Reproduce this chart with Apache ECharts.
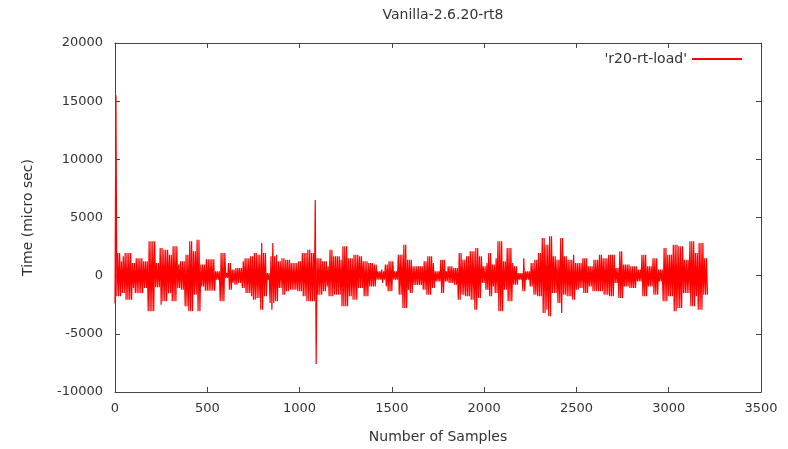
<!DOCTYPE html>
<html>
<head>
<meta charset="utf-8">
<script src="https://cdn.jsdelivr.net/npm/echarts@6/dist/echarts.min.js"></script>
<style>
html,body{margin:0;padding:0;background:#fff;}
#c{width:788px;height:449px;}
</style>
</head>
<body>
<div id="c"></div>
<script>
const chartTitle = "Vanilla-2.6.20-rt8";
const seriesName = "'r20-rt-load'";
const xTicks = [0, 500, 1000, 1500, 2000, 2500, 3000, 3500];
const yTicks = [-10000, -5000, 0, 5000, 10000, 15000, 20000];
const sampleStep = 5; // sample index spacing between readings
const latency = [
-2400,15500,-1770,1950,-1770,1950,-1770,1230,-1490,1660,
-1490,1950,-2060,1950,-2060,1950,-2060,1950,-2060,1090,
-1060,1090,-1490,1500,-1490,1500,-1490,1500,-1490,1500,
-1490,1230,-1060,1230,-1060,1230,-3060,2950,-3060,2950,
-3060,2950,-3060,2950,-1000,1090,-1000,1090,-1000,2370,
-2490,2370,-2200,2230,-2200,2230,-2200,2230,-1500,1800,
-1500,1800,-2200,2520,-2200,2520,-2200,2520,-1060,950,
-1060,1230,-1200,1230,-1200,1230,-2630,1800,-2630,1800,
-3060,2950,-3060,2950,-3060,2090,-1630,2090,-1630,3090,
-3060,3090,-3060,950,-920,950,-920,950,-1300,1400,
-1300,1400,-1300,1400,-1300,1400,-1300,1400,-1300,370,
-340,370,-340,370,-2200,1950,-2200,1950,-2200,1950,
-200,230,-200,1090,-1200,1090,-1200,520,-630,520,
-770,660,-770,660,-630,660,-630,660,-1060,1230,
-1060,1500,-1490,1500,-1490,1500,-1490,1660,-1770,1660,
-2060,1950,-2060,1950,-1920,1800,-1920,1800,-2920,2800,
-2920,1950,-1770,1950,-1770,230,-340,230,-2350,1660,
-2920,2800,-2350,1660,-2200,1800,-2200,1230,-1060,1230,
-1060,1500,-1630,1500,-1630,1370,-1340,1370,-1340,1370,
-1200,1090,-1200,1090,-1200,1090,-1200,1090,-1340,1230,
-1340,1230,-1340,1950,-1770,1950,-1770,1950,-2200,2230,
-2200,2230,-2200,1950,-2200,1950,-2200,6500,-7600,1500,
-1630,1500,-1630,1500,-1630,1230,-1340,1230,-1340,1230,
-920,800,-1770,2230,-1770,2230,-1770,1660,-1630,1660,
-1630,1660,-1630,1660,-1630,1370,-2630,2520,-2630,2520,
-2630,2520,-2630,1500,-1770,1500,-1770,1500,-2060,1800,
-2060,1800,-2060,1800,-1060,1660,-1060,1660,-1060,1230,
-1770,1230,-1770,1230,-1770,1090,-920,1090,-920,1090,
-920,950,-920,950,-340,370,-340,370,-340,520,
-630,370,-340,950,-920,950,-1340,1230,-1340,1230,
-1340,1230,-340,370,-340,370,-340,1800,-1630,1800,
-1630,1800,-2770,2660,-2770,2660,-2770,1370,-1200,1370,
-1490,1370,-1490,800,-800,800,-800,800,-800,800,
-800,800,-800,800,-1200,1230,-1200,1230,-1630,1660,
-1630,1660,-1630,1660,-1060,1090,-1060,370,-490,370,
-490,370,-490,1370,-1490,1370,-1490,1370,-490,370,
-490,800,-630,800,-630,800,-630,660,-770,660,
-770,660,-2060,1950,-2060,1950,-1630,1370,-1630,1370,
-1770,1660,-1770,1660,-1770,2090,-2060,2090,-2060,2090,
-2920,2370,-2920,2370,-1920,1660,-1920,1660,-630,800,
-630,800,-1200,1090,-1200,1950,-1770,1950,-1770,950,
-920,950,-1490,1500,-1490,2950,-3060,2950,-3060,2950,
-3060,1230,-1200,1230,-1200,2370,-2200,2370,-2200,2370,
-2200,1090,-770,800,-770,800,-770,230,-340,230,
-340,230,-1340,1500,-1340,370,-340,370,-340,370,
-920,1090,-920,1090,-1630,1370,-1630,1370,-1770,1950,
-1770,1950,-1770,3240,-3200,3240,-3200,2660,-2920,2660,
-3490,3380,-3490,3380,-1490,1660,-1490,1660,-1490,1370,
-2350,1370,-2350,3240,-3200,3240,-1630,1660,-1630,1660,
-1770,1370,-1770,1370,-1770,1370,-2060,1800,-2060,1090,
-1200,1090,-1200,1090,-1060,1090,-1060,1500,-1490,1500,
-1490,1500,-1490,800,-920,800,-920,800,-1340,1370,
-1340,1370,-1340,1370,-1340,1800,-1340,1800,-1340,1500,
-1630,1500,-1630,1500,-1630,1800,-1770,1800,-1770,1800,
-1770,1800,-630,660,-630,660,-1920,2090,-1920,2090,
-1920,950,-920,950,-920,950,-920,950,-1060,800,
-1060,800,-1060,800,-1060,800,-490,520,-490,520,
-490,1800,-1770,1800,-1770,1800,-1770,800,-920,800,
-920,800,-920,1500,-1630,1500,-1630,1500,-1630,520,
-490,520,-490,520,-2200,2370,-2200,2370,-2200,1800,
-1770,1800,-1770,1800,-1770,2660,-3060,2660,-3060,2660,
-2770,2520,-2770,2520,-2770,2520,-1490,1370,-1490,1370,
-1490,1370,-1490,2950,-2630,2950,-2630,2950,-2630,1950,
-1770,1950,-2920,2800,-2920,2800,-2920,2800,-1630,1500,
-1630,1500,-1630
];

const points = latency.map((v, i) => [i * sampleStep, v]);
const txt = '#333';
const axisCol = '#444';
const fontFam = 'DejaVu Sans, sans-serif';
const plain = v => String(v);

const chart = echarts.init(document.getElementById('c'), null, {renderer: 'canvas'});
const baseX = {
  type: 'value', min: xTicks[0], max: xTicks[xTicks.length - 1], interval: 500,
  axisLine: {show: true, onZero: false, lineStyle: {color: axisCol, width: 1}},
  axisTick: {show: true, inside: true, length: 5, lineStyle: {color: axisCol}},
  splitLine: {show: false}
};
const baseY = {
  type: 'value', min: yTicks[0], max: yTicks[yTicks.length - 1], interval: 5000,
  axisLine: {show: true, onZero: false, lineStyle: {color: axisCol, width: 1}},
  axisTick: {show: true, inside: true, length: 5, lineStyle: {color: axisCol}},
  splitLine: {show: false}
};
chart.setOption({
  animation: false,
  backgroundColor: '#fff',
  title: {
    text: chartTitle, left: 438, top: 3, textAlign: 'center',
    textStyle: {fontSize: 14, fontWeight: 'normal', color: txt, fontFamily: fontFam}
  },
  legend: {
    data: [seriesName], right: 46, top: 52, align: 'right', padding: 0,
    itemWidth: 50, itemHeight: 2, icon: 'rect', itemGap: 6,
    textStyle: {fontSize: 14, color: txt, fontFamily: fontFam}
  },
  grid: {left: 115, right: 27, top: 43, bottom: 56, containLabel: false},
  xAxis: [
    Object.assign({}, baseX, {
      position: 'bottom', name: 'Number of Samples', nameLocation: 'middle', nameGap: 38,
      nameTextStyle: {fontSize: 14, color: txt, fontFamily: fontFam},
      axisLabel: {show: true, margin: 10, fontSize: 13, color: txt, fontFamily: fontFam, formatter: plain}
    }),
    Object.assign({}, baseX, {position: 'top', axisLabel: {show: false}})
  ],
  yAxis: [
    Object.assign({}, baseY, {
      position: 'left', name: 'Time (micro sec)', nameLocation: 'middle', nameGap: 80,
      nameTextStyle: {fontSize: 14, color: txt, fontFamily: fontFam},
      axisLabel: {show: true, margin: 12, fontSize: 13, color: txt, fontFamily: fontFam, formatter: plain}
    }),
    Object.assign({}, baseY, {position: 'right', axisLabel: {show: false}})
  ],
  series: [{
    name: seriesName, type: 'line', xAxisIndex: 0, yAxisIndex: 0,
    data: points, showSymbol: false, symbol: 'none', sampling: null,
    lineStyle: {color: '#ff0000', width: 1.2},
    itemStyle: {color: '#ff0000'}
  }]
});
</script>
</body>
</html>
